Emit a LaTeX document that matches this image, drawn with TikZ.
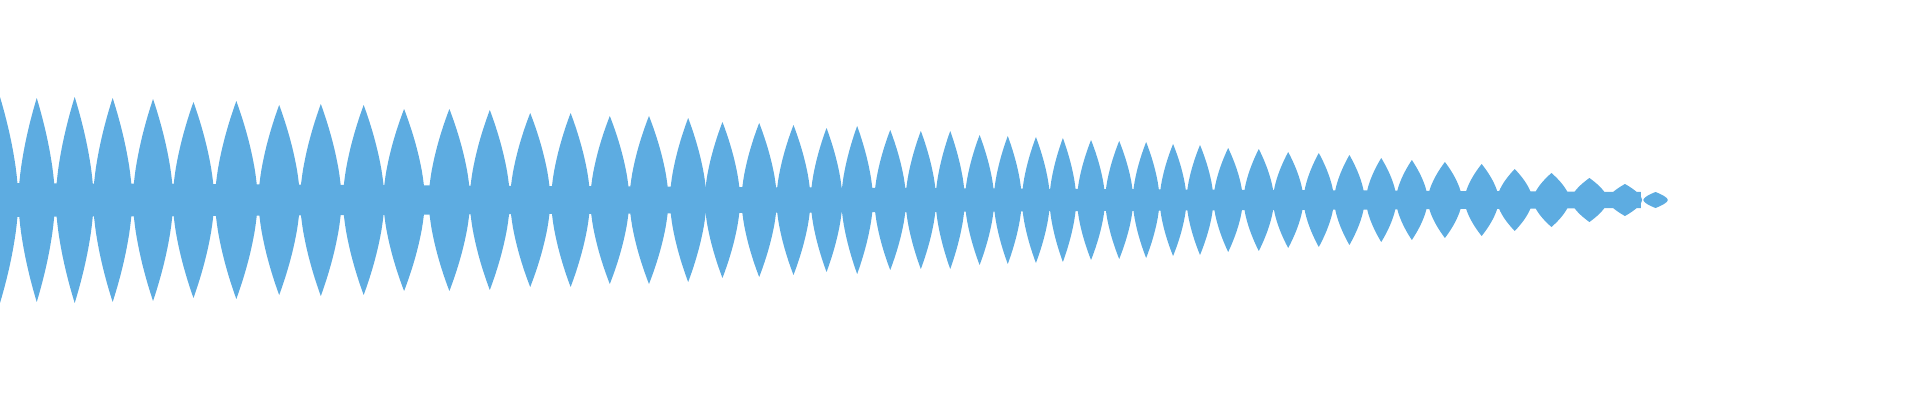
\documentclass[tikz,border=0pt]{standalone}
\definecolor{wavec}{RGB}{93,172,225}
\begin{document}
\begin{tikzpicture}[x=1pt,y=1pt,wave/.style={fill=wavec}]
\useasboundingbox (0,0) rectangle (1920,400);
\clip (0,0) rectangle (1920,400);
\begin{scope}[xscale=1.2245]
\fill[wave] (0,183) -- (1340,192) -- (1340,208) -- (0,217) -- cycle;
\foreach \p/\w/\a in {0/15/103,30/15/102,61/15.5/103,92/16/102,125/16.5/101,158/17/98,193/17.5/99,228/17/95,262/17/96,297/17/95,330/17/91,367/17/91,400/16.5/90,433/16.5/87,466/16/87,498/16/84,530/16/84,562/15/82,590/14.5/78,620/14.5/77,648/14/75,675/13/72,700/13/74,727/13/70,752/12.5/69,776/12/69,800/12/65,823/11.5/64,846/11.5/63,868/11/62,891/11.5/60,914/11.5/59,936/11/58,958/11/56,980/11/55,1003/12/52,1028/12.5/51,1052/12.5/48,1077/12.5/47,1102/12.5/45,1128/12.5/42,1153/13/40,1180/14/38,1210/14/36,1237/14.5/31,1267/15/27,1298/15/22,1327/14/16,1352/10/8}{
  \fill[wave] plot[domain=-1:1,samples=41,variable=\s] ({\p+\w*\s},{200+\a*(1-abs(\s))^0.6})
     -- plot[domain=1:-1,samples=41,variable=\s] ({\p+\w*\s},{200-\a*(1-abs(\s))^0.6}) -- cycle;
}
\end{scope}
\end{tikzpicture}
\end{document}
